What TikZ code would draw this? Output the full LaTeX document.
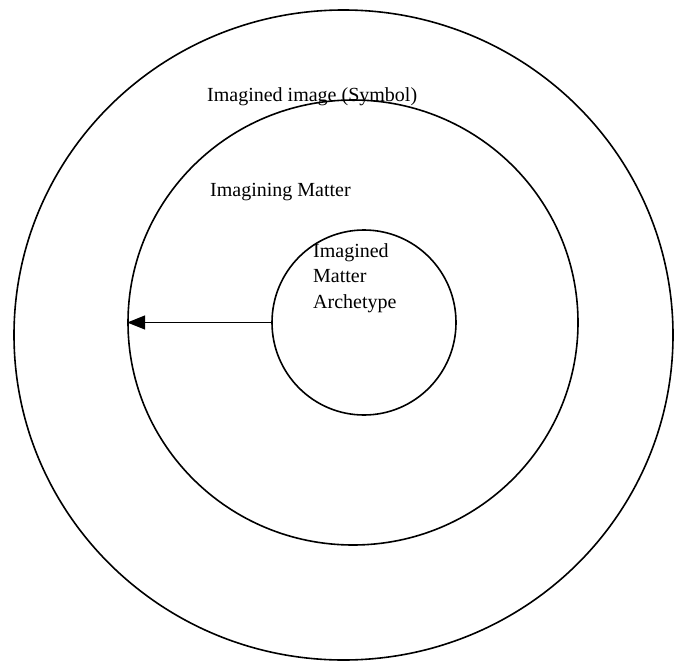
\documentclass[tikz,border=0pt]{standalone}
\usepackage{fontspec}
\setmainfont{Liberation Serif}
\usetikzlibrary{arrows.meta,shapes.geometric}
\begin{document}
\begin{tikzpicture}[x=1pt, y=-1pt, font=\fontsize{20}{25.5}\selectfont,
  ring/.style={draw, ellipse, line width=1.6pt, inner sep=0pt},
  lbl/.style={anchor=base west, inner sep=0pt}]
\useasboundingbox (0,0) rectangle (679,661);
% rings
\node[ring, minimum width=659pt, minimum height=650pt] (outer) at (343.5,335) {};
\node[ring, minimum width=450pt, minimum height=445pt] (middle) at (353,322.5) {};
\node[ring, minimum width=184pt, minimum height=185pt] (inner) at (364,322.5) {};
% labels
\node[lbl] (symbol) at (207,101) {Imagined image (Symbol)};
\node[lbl] (matter) at (210,196) {Imagining Matter};
\node[anchor=north west, inner sep=0pt, align=left] (archetype) at (313,243) {Imagined\\Matter\\Archetype};
% arrow
\draw[-{Triangle[length=18pt, width=14pt]}, line width=1.4pt] (inner.west) -- (middle.west);
\end{tikzpicture}
\end{document}
